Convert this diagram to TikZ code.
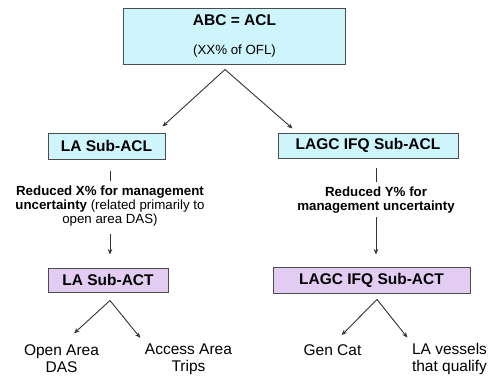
\documentclass[tikz,border=0pt]{standalone}
\usepackage{fontspec}
\setmainfont{Liberation Sans}
\usetikzlibrary{arrows.meta}
\definecolor{aclcyan}{RGB}{206,244,252}
\definecolor{actlilac}{RGB}{226,204,242}

\begin{document}
\begin{tikzpicture}[
    x=1pt, y=-1pt,
    >={Stealth[length=5.5pt,width=4.5pt]},
    box/.style={draw=black!70, line width=1pt, inner sep=0pt,
      font=\bfseries\fontsize{15.5}{17}\selectfont},
    acl/.style={box, fill=aclcyan},
    act/.style={box, fill=actlilac},
    note/.style={align=center, inner sep=0pt,
      font=\fontsize{13.3}{13.8}\selectfont},
    leaf/.style={align=center, inner sep=0pt,
      font=\fontsize{15.5}{17}\selectfont},
    ptr/.style={->, line width=.9pt, draw=black!80},
    link/.style={line width=.9pt, draw=black!80},
  ]
    \useasboundingbox (0,0) rectangle (490,375);

    \node[acl, align=center, minimum width=222pt, minimum height=56pt] (abc) at (234.5,36)
      {ABC = ACL\\[12pt]{\mdseries\fontsize{13.3}{14}\selectfont (XX\% of OFL)}};
    \coordinate (abcfork) at ([shift={(-9.5,5)}]abc.south);

    % sub-ACLs
    \node[acl, minimum width=117pt, minimum height=26pt] (lasubacl) at (106.5,146) {LA Sub-ACL};
    \node[acl, minimum width=180pt, minimum height=25pt] (ifqsubacl) at (368,145.5) {LAGC IFQ Sub-ACL};
    \draw[ptr] (abcfork) -- ([shift={(-3,-6)}]lasubacl.north east);
    \draw[ptr] (abcfork) -- ([shift={(15,-4)}]ifqsubacl.north west);

    % management uncertainty buffers
    \node[note] (redx) at (110,206)
      {\textbf{Reduced X\% for management}\\
       \textbf{uncertainty} (related primarily to\\
       open area DAS)};
    \node[note] (redy) at (376,200)
      {\textbf{Reduced Y\% for}\\ \textbf{management uncertainty}};

    % sub-ACTs
    \node[act, minimum width=120pt, minimum height=24pt] (lasubact) at (108,280) {LA Sub-ACT};
    \node[act, minimum width=197pt, minimum height=26pt] (ifqsubact) at (371.5,280) {LAGC IFQ Sub-ACT};

    \draw[link, shorten <=11pt, shorten >=5pt] (lasubacl.south -| redx) -- (redx);
    \draw[ptr, shorten <=8pt, shorten >=13pt] (redx) -- (lasubact.north -| redx);
    \draw[link, shorten <=9pt, shorten >=5pt] (ifqsubacl.south -| redy) -- (redy);
    \draw[ptr, shorten <=4pt, shorten >=12pt] (redy) -- (ifqsubact.north -| redy);

    % split of each sub-ACT
    \node[leaf] (opendas) at (61.5,359) {Open Area\\DAS};
    \node[leaf] (accesstrips) at (188.5,359) {Access Area\\Trips};
    \node[leaf] (gencat) at (332.5,350) {Gen Cat};
    \node[leaf] (lavessels) at (449.5,359) {LA vessels\\that qualify};
    \coordinate (lafork) at ([shift={(2,8)}]lasubact.south);
    \coordinate (ifqfork) at ([shift={(5.5,6)}]ifqsubact.south);
    \draw[ptr, shorten >=17pt] (lafork) -- (opendas.north);
    \draw[ptr, shorten >=7pt] (lafork) -- (accesstrips.north west);
    \draw[ptr, shorten >=13pt] (ifqfork) -- (gencat.north);
    \draw[ptr, shorten >=7pt] (ifqfork) -- (lavessels.north west);
  \end{tikzpicture}
\end{document}
